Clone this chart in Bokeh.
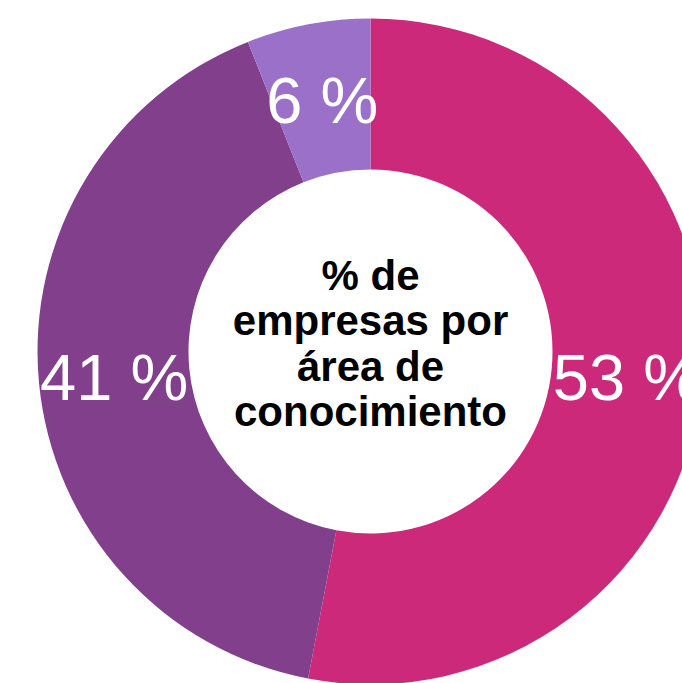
import math
from bokeh.plotting import figure
from bokeh.models import Range1d, ColumnDataSource
from bokeh.core.properties import value
from bokeh.embed import file_html
from bokeh.resources import INLINE

# Data
categories = ["Área 1", "Área 2", "Área 3"]
values = [53, 41, 6]
labels = ["53 %", "41 %", "6 %"]
colors = ["#CC297A", "#82408C", "#9B70C8"]
center_lines = ["% de", "empresas por", "área de", "conocimiento"]

W, H = 682, 683
cx, cy = 370, H - 351
r_out, r_in = 333, 182

total = sum(values)
starts, ends, lx, ly = [], [], [], []
cum = 0.0
for v in values:
    a0 = math.pi / 2 - 2 * math.pi * cum / total
    a1 = math.pi / 2 - 2 * math.pi * (cum + v) / total
    starts.append(a0)
    ends.append(a1)
    mid = (a0 + a1) / 2
    rm = (r_out + r_in) / 2
    lx.append(cx + rm * math.cos(mid))
    ly.append(cy + rm * math.sin(mid) - 2)
    cum += v

src = ColumnDataSource(dict(cat=categories, val=values, start=starts, end=ends,
                            color=colors, lx=lx, ly=ly, label=labels))

p = figure(width=W, height=H, x_range=Range1d(0, W), y_range=Range1d(0, H),
           output_backend="svg", toolbar_location=None, min_border=0)
p.axis.visible = False
p.grid.visible = False
p.outline_line_color = None
p.background_fill_color = "white"
p.border_fill_color = "white"

p.annular_wedge(x=cx, y=cy, inner_radius=r_in, outer_radius=r_out,
                start_angle="start", end_angle="end", direction="clock",
                fill_color="color", line_color=None, source=src)

p.text(x="lx", y="ly", text="label", source=src, text_color="white",
       text_font=value("Liberation Sans"), text_font_size="65px",
       text_align="center", text_baseline="middle")

line_gap = 45.5
n = len(center_lines)
ys = [cy + 8 + (n - 1) / 2 * line_gap - i * line_gap for i in range(n)]
csrc = ColumnDataSource(dict(x=[cx] * n, y=ys, t=center_lines))
p.text(x="x", y="y", text="t", source=csrc, text_color="black",
       text_font=value("Liberation Sans"), text_font_size="42px",
       text_font_style="bold", text_align="center", text_baseline="middle")

open("out.html", "w").write(file_html(p, INLINE))
